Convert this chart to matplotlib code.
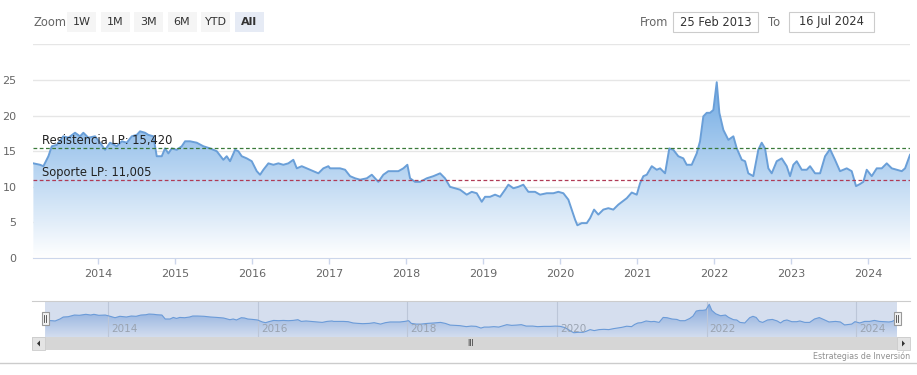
import numpy as np
import matplotlib.pyplot as plt
import matplotlib.patches as mpatches
from matplotlib.colors import LinearSegmentedColormap

########## Data ##########
# dates as decimal years
years = [2013.160, 2013.247, 2013.290, 2013.355, 2013.399, 2013.464, 2013.549, 2013.614, 2013.701, 2013.766,
         2013.809, 2013.874, 2013.961, 2014.026, 2014.091, 2014.156, 2014.243, 2014.308, 2014.373, 2014.438,
         2014.503, 2014.545, 2014.610, 2014.653, 2014.718, 2014.762, 2014.827, 2014.870, 2014.913, 2014.957,
         2015.022, 2015.087, 2015.130, 2015.195, 2015.282, 2015.368, 2015.455, 2015.542, 2015.627, 2015.671,
         2015.714, 2015.779, 2015.822, 2015.866, 2015.931, 2015.996, 2016.061, 2016.104, 2016.147, 2016.212,
         2016.277, 2016.342, 2016.406, 2016.471, 2016.536, 2016.581, 2016.645, 2016.710, 2016.796, 2016.861,
         2016.926, 2016.991, 2017.013, 2017.078, 2017.143, 2017.208, 2017.273, 2017.338, 2017.403, 2017.490,
         2017.555, 2017.640, 2017.705, 2017.770, 2017.835, 2017.900, 2017.965, 2018.017, 2018.052, 2018.117,
         2018.182, 2018.269, 2018.355, 2018.442, 2018.506, 2018.571, 2018.636, 2018.701, 2018.788, 2018.853,
         2018.918, 2018.983, 2019.026, 2019.091, 2019.156, 2019.221, 2019.286, 2019.329, 2019.394, 2019.458,
         2019.523, 2019.588, 2019.675, 2019.740, 2019.827, 2019.913, 2019.978, 2020.043, 2020.108, 2020.152,
         2020.195, 2020.225, 2020.282, 2020.347, 2020.390, 2020.442, 2020.497, 2020.562, 2020.627, 2020.692,
         2020.757, 2020.866, 2020.931, 2020.996, 2021.039, 2021.082, 2021.126, 2021.191, 2021.256, 2021.299,
         2021.364, 2021.419, 2021.471, 2021.536, 2021.601, 2021.645, 2021.710, 2021.775, 2021.818, 2021.861,
         2021.905, 2021.948, 2021.991, 2022.035, 2022.069, 2022.121, 2022.186, 2022.251, 2022.295, 2022.360,
         2022.403, 2022.445, 2022.510, 2022.575, 2022.619, 2022.662, 2022.705, 2022.749, 2022.814, 2022.879,
         2022.944, 2022.987, 2023.030, 2023.074, 2023.139, 2023.204, 2023.247, 2023.312, 2023.377, 2023.442,
         2023.506, 2023.571, 2023.636, 2023.723, 2023.788, 2023.844, 2023.896, 2023.939, 2023.983, 2024.048,
         2024.113, 2024.178, 2024.243, 2024.308, 2024.373, 2024.438, 2024.481, 2024.545]

prices = [13.3, 13.1, 12.9, 14.3, 15.7, 15.9, 17.1, 16.9, 17.6, 17.1,
          17.6, 16.9, 17.1, 16.2, 15.2, 16.2, 15.7, 16.4, 16.2, 17.1,
          17.3, 17.8, 17.6, 17.3, 17.1, 14.3, 14.3, 15.4, 14.7, 15.4,
          15.2, 15.7, 16.4, 16.4, 16.2, 15.7, 15.4, 15.0, 13.8, 14.3,
          13.6, 15.2, 15.0, 14.3, 14.0, 13.6, 12.2, 11.7, 12.4, 13.3,
          13.1, 13.3, 13.1, 13.3, 13.8, 12.6, 12.9, 12.6, 12.2, 11.9,
          12.6, 12.9, 12.6, 12.6, 12.6, 12.4, 11.5, 11.2, 11.0, 11.2,
          11.7, 10.7, 11.7, 12.2, 12.2, 12.2, 12.6, 13.1, 11.2, 10.7,
          10.7, 11.2, 11.5, 11.9, 11.2, 10.0, 9.8, 9.6, 8.9, 9.3,
          9.1, 7.9, 8.6, 8.6, 8.9, 8.6, 9.6, 10.3, 9.8, 10.0,
          10.3, 9.3, 9.3, 8.9, 9.1, 9.1, 9.3, 9.1, 8.2, 6.8,
          5.4, 4.6, 4.9, 4.9, 5.6, 6.8, 6.1, 6.8, 7.0, 6.8,
          7.5, 8.4, 9.2, 8.9, 10.5, 11.5, 11.7, 12.9, 12.4, 12.6,
          11.9, 15.4, 15.2, 14.3, 14.0, 13.1, 13.1, 14.7, 16.4, 19.9,
          20.4, 20.4, 20.8, 24.7, 20.4, 18.0, 16.6, 17.1, 15.4, 13.8,
          13.6, 11.9, 11.5, 15.2, 16.2, 15.4, 12.6, 11.9, 13.6, 14.0,
          12.9, 11.5, 13.1, 13.6, 12.4, 12.4, 12.9, 11.9, 11.9, 14.3,
          15.3, 13.8, 12.2, 12.6, 12.2, 10.1, 10.4, 10.7, 12.4, 11.5,
          12.6, 12.6, 13.3, 12.6, 12.4, 12.2, 12.6, 14.5]

resistencia = 15.420
soporte = 11.005

year_ticks = list(range(2014, 2025))
nav_year_ticks = list(range(2014, 2025, 2))
y_ticks = [0, 5, 10, 15, 20, 25, 30]
zoom_buttons = ["1W", "1M", "3M", "6M", "YTD", "All"]
date_from = "25 Feb 2013"
date_to = "16 Jul 2024"

W, H = 917, 375
fig = plt.figure(figsize=(W / 100, H / 100), dpi=100)
plt.rcParams['font.family'] = 'DejaVu Sans'

def px_axes(x0, y0, x1, y1):
    # rectangle given in screen pixels (top-left origin)
    return fig.add_axes([x0 / W, 1 - y1 / H, (x1 - x0) / W, (y1 - y0) / H])

t = np.array(years)
v = np.array(prices)
tmin, tmax = 2013.155, 2024.545

########## Main chart ##########
ax = px_axes(33, 44.5, 910, 258)
ax.set_xlim(tmin, tmax)
ax.set_ylim(0, 30)

fade = LinearSegmentedColormap.from_list('fade', ['#ffffff', '#5c9ee0'])
grad = np.linspace(0, 1, 256).reshape(-1, 1)
im = ax.imshow(grad, extent=[tmin, tmax, 0, 28], origin='lower', aspect='auto', cmap=fade, zorder=1)
poly = ax.fill_between(t, v, 0, color='none', lw=0)
im.set_clip_path(poly.get_paths()[0], transform=ax.transData)
ax.plot(t, v, color='#6a9fd8', lw=1.4, zorder=3)
ax.set_xlim(tmin, tmax)
ax.set_ylim(0, 30)

ax.axhline(resistencia, color='#3a7a3a', lw=0.9, dashes=(3, 2), zorder=4)
ax.axhline(soporte, color='#b03a55', lw=0.9, dashes=(3, 2), zorder=4)
ax.annotate("Resistencia LP: 15,420", xy=(tmin, resistencia), xytext=(9, 1), textcoords='offset pixels',
            fontsize=8.3, color='#222222', va='bottom', zorder=5)
ax.annotate("Soporte LP: 11,005", xy=(tmin, soporte), xytext=(9, 1), textcoords='offset pixels',
            fontsize=8.3, color='#222222', va='bottom', zorder=5)

ax.set_yticks(y_ticks)
ax.set_yticklabels([str(y) if y < 30 else '' for y in y_ticks])
ax.set_xticks(year_ticks)
ax.set_xticklabels([str(y) for y in year_ticks])
ax.grid(axis='y', color='#e6e6e6', lw=1)
ax.set_axisbelow(True)
ax.tick_params(axis='y', length=0, pad=12, labelsize=8, labelcolor='#666666')
ax.tick_params(axis='x', length=4, width=1, color='#ccd6eb', pad=4, labelsize=8, labelcolor='#666666')
for s in ['top', 'left', 'right']:
    ax.spines[s].set_visible(False)
ax.spines['bottom'].set_color('#ccd6eb')

########## Navigator ##########
nav = px_axes(45, 301, 897, 336.7)
nav.set_facecolor('#d5deee')
nav.set_xlim(tmin, tmax)
nav.set_ylim(1.8, 27)
nav_fade = LinearSegmentedColormap.from_list('navfade', ['#d3ddef', '#7ea4da'])
im2 = nav.imshow(grad, extent=[tmin, tmax, 1.8, 27], origin='lower', aspect='auto', cmap=nav_fade, zorder=1)
poly2 = nav.fill_between(t, v, 0, color='none', lw=0)
im2.set_clip_path(poly2.get_paths()[0], transform=nav.transData)
nav.plot(t, v, color='#6b9bd8', lw=0.8, zorder=3)
nav.set_xlim(tmin, tmax)
nav.set_ylim(1.8, 27)
for yr in nav_year_ticks:
    nav.axvline(yr, color='#bcc6d8', lw=0.8, zorder=2)
    nav.annotate(str(yr), xy=(yr, 1.8), xytext=(3, 3), textcoords='offset pixels',
                 fontsize=7.5, color='#9aa3b0', va='bottom', ha='left', zorder=4)
nav.set_xticks([])
nav.set_yticks([])
for s in nav.spines.values():
    s.set_visible(False)

########## UI overlay (buttons, inputs, scrollbar) ##########
ui = fig.add_axes([0, 0, 1, 1], zorder=10)
ui.set_xlim(0, W)
ui.set_ylim(H, 0)
ui.axis('off')
ui.patch.set_visible(False)

ui.text(33, 22, "Zoom", fontsize=8.3, color='#666666', va='center', ha='left')
bx = 67
for lab in zoom_buttons:
    sel = lab == "All"
    ui.add_patch(mpatches.Rectangle((bx, 12), 29, 20, facecolor='#e6ebf5' if sel else '#f5f5f5', lw=0))
    ui.text(bx + 14.5, 22, lab, fontsize=8, color='#333333', va='center', ha='center',
            fontweight='bold' if sel else 'normal')
    bx += 33.5

ui.text(640, 22, "From", fontsize=8.3, color='#666666', va='center', ha='left')
ui.add_patch(mpatches.Rectangle((673, 12), 85, 20, facecolor='white', edgecolor='#cccccc', lw=0.8))
ui.text(715.5, 22, date_from, fontsize=8.3, color='#333333', va='center', ha='center')
ui.text(768, 22, "To", fontsize=8.3, color='#666666', va='center', ha='left')
ui.add_patch(mpatches.Rectangle((789, 12), 85, 20, facecolor='white', edgecolor='#cccccc', lw=0.8))
ui.text(831.5, 22, date_to, fontsize=8.3, color='#333333', va='center', ha='center')

# navigator outline + handles
ui.plot([32, 910], [301, 301], color='#cccccc', lw=0.8)
for hx in [45, 897]:
    ui.add_patch(mpatches.Rectangle((hx - 3.5, 311.5), 7, 13.5, facecolor='#f2f2f2', edgecolor='#999999', lw=0.8))
    ui.plot([hx - 1, hx - 1], [314.5, 322], color='#444444', lw=0.6)
    ui.plot([hx + 1, hx + 1], [314.5, 322], color='#444444', lw=0.6)

# scrollbar
ui.add_patch(mpatches.Rectangle((32, 337), 878, 13, facecolor='#d6d6d6', lw=0))
ui.add_patch(mpatches.Rectangle((32, 337), 13, 13, facecolor='#e4e4e4', edgecolor='#cccccc', lw=0.6))
ui.add_patch(mpatches.Rectangle((897, 337), 13, 13, facecolor='#e4e4e4', edgecolor='#cccccc', lw=0.6))
ui.add_patch(mpatches.Polygon([[40, 340.5], [40, 346.5], [37, 343.5]], closed=True, facecolor='#333333', lw=0))
ui.add_patch(mpatches.Polygon([[902, 340.5], [902, 346.5], [905, 343.5]], closed=True, facecolor='#333333', lw=0))
ui.text(471, 343.5, "III", fontsize=5.5, color='#333333', va='center', ha='center')

ui.plot([0, W], [362.7, 362.7], color='#cccccc', lw=1)
ui.text(910, 356.5, "Estrategias de Inversión", fontsize=5.8, color='#909090', va='center', ha='right')

fig.savefig("out.png", dpi=100)
